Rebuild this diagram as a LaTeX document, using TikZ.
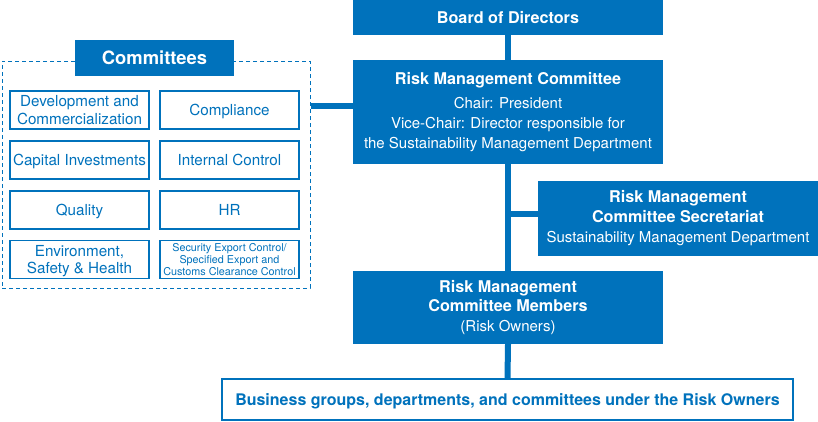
\documentclass[tikz,border=0pt]{standalone}
\usepackage{fontspec}
\setmainfont{TeX Gyre Heros}
\definecolor{rmblue}{RGB}{0,114,188}
\newcommand{\bigb}[1]{{\fontsize{16.2}{20}\selectfont\bfseries #1}}
\tikzset{
  bluebox/.style={draw=none, fill=rmblue, text=white, inner sep=0pt, align=center},
  whitebox/.style={draw=rmblue, line width=1.2pt, fill=white, text=rmblue, inner sep=0pt, align=center},
  conn/.style={draw=rmblue, line width=6pt},
  frame/.style={draw=rmblue, line width=1pt, dash pattern=on 4pt off 3pt}
}
\begin{document}
\begin{tikzpicture}[x=1pt,y=-1pt]
\useasboundingbox (0,0) rectangle (818,421);
% dashed frame
\node[frame, minimum width=308pt, minimum height=227pt, inner sep=0pt] (frm) at (156,174.5) {};
\node[bluebox, minimum width=159pt, minimum height=36pt, font=\fontsize{18.4}{20}\selectfont\bfseries, text depth=0pt] (ctitle) at (154.5,58) {Committees};
% committee boxes
\tikzset{cbox/.style={whitebox, minimum width=139pt, minimum height=38pt, font=\fontsize{15.2}{17.5}\selectfont, text depth=0pt}}
\node[cbox] (c1) at (79.5,110) {Development and\\Commercialization};
\node[cbox] (c2) at (229.5,110) {Compliance};
\node[cbox] (c3) at (79.5,160) {Capital Investments};
\node[cbox] (c4) at (229.5,160) {Internal Control};
\node[cbox] (c5) at (79.5,210) {Quality};
\node[cbox] (c6) at (229.5,210) {HR};
\node[cbox] (c7) at (79.5,259.5) {Environment,\\Safety \& Health};
\node[cbox, font=\fontsize{10.8}{11.8}\selectfont] (c8) at (229.5,259.5) {Security Export Control/\\Specified Export and\\Customs Clearance Control};
% main chain
\node[bluebox, minimum width=310pt, minimum height=35pt, font=\fontsize{16.2}{18}\selectfont\bfseries, text depth=0pt] (board) at (508,17.5) {Board of Directors};
\node[bluebox, minimum width=310pt, minimum height=104pt, font=\fontsize{15}{20}\selectfont] (rmc) at (508,112) {\bigb{Risk Management Committee}\\[4pt]Chair: President\\Vice-Chair: Director responsible for\\the Sustainability Management Department};
\node[bluebox, minimum width=280pt, minimum height=75pt, font=\fontsize{15}{20}\selectfont] (sec) at (678,218) {\bigb{Risk Management}\\\bigb{Committee Secretariat}\\Sustainability Management Department};
\node[bluebox, minimum width=310pt, minimum height=73pt, font=\fontsize{15}{19.5}\selectfont] (mem) at (508,307.5) {\bigb{Risk Management}\\\bigb{Committee Members}\\(Risk Owners)};
\node[whitebox, minimum width=571pt, minimum height=41pt, font=\fontsize{16}{18}\selectfont\bfseries, text depth=0pt] (bus) at (507.5,399.5) {Business groups, departments, and committees under the Risk Owners};
% connectors
\draw[conn] (board.south) -- (rmc.north);
\draw[conn] (rmc.south) -- (mem.north);
\draw[conn] (mem.south) -- (bus.north);
\coordinate (sj) at (sec.west |- 0,214);
\draw[conn] (sj) -- (sj -| mem.north);
\coordinate (fj) at (frm.east |- 0,106);
\draw[conn] (fj) -- (fj -| rmc.west);
\end{tikzpicture}
\end{document}
